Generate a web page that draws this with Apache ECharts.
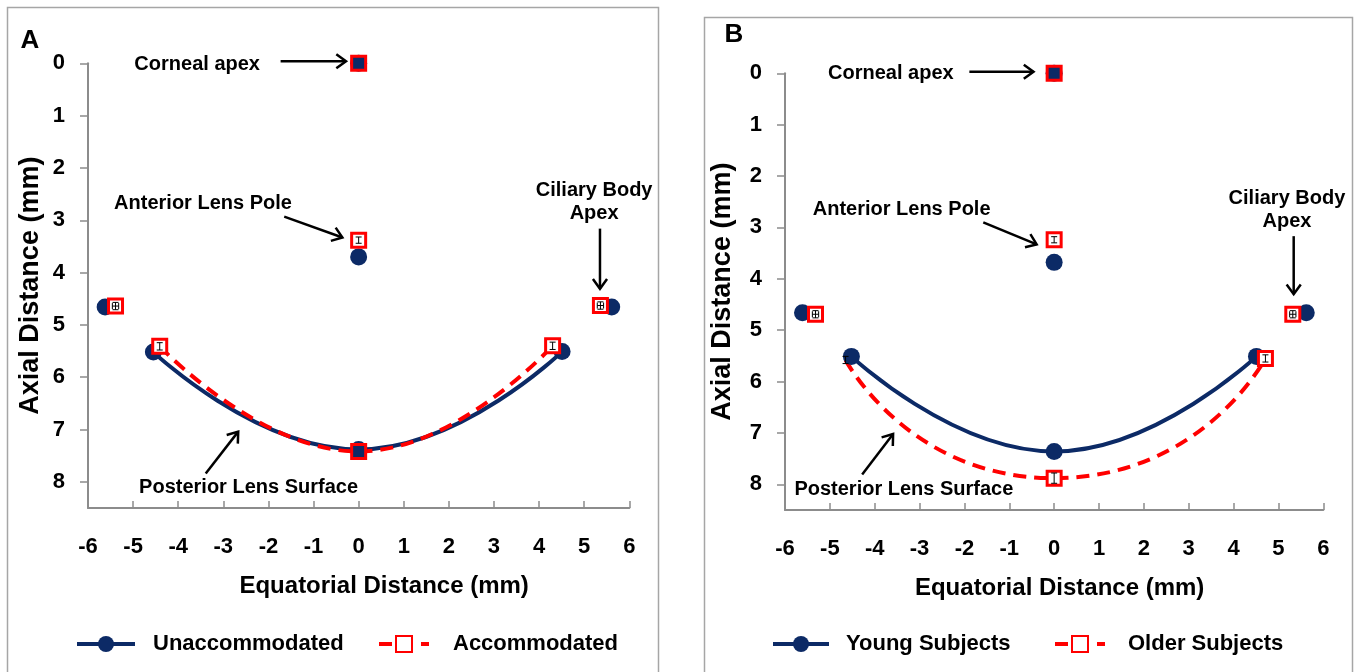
<!DOCTYPE html>
<html>
<head>
<meta charset="utf-8">
<title>Lens landmarks</title>
<script src="https://cdn.jsdelivr.net/npm/echarts@6.0.0/dist/echarts.min.js"></script>
<style>
  html, body { margin: 0; padding: 0; background: #fff; }
  #chart { width: 1354px; height: 672px; }
</style>
</head>
<body>
<div id="chart"></div>
<script>
// ---- data (mm) ----
// landmark order: corneal apex, anterior lens pole, ciliary body apex (left), ciliary body apex (right)
const xTicks = [-6, -5, -4, -3, -2, -1, 0, 1, 2, 3, 4, 5, 6];
const yTicks = [0, 1, 2, 3, 4, 5, 6, 7, 8];

// panel A
const unaccLandmarks = [[0, 0], [0, 3.70], [-5.62, 4.66], [5.61, 4.66]];
const unaccPosterior = [[-4.55, 5.52], [0, 7.38], [4.51, 5.51]];
const accLandmarks = [[0, 0], [0, 3.38], [-5.39, 4.64], [5.36, 4.63]];
const accPosterior = [[-4.41, 5.41], [0, 7.42], [4.30, 5.40]];
const accLandmarkErrX = [0, 0, 0.07, 0.07];
const accLandmarkErrY = [0, 0.06, 0.07, 0.07];
const accPosteriorErrY = [0.07, 0, 0.07];

// panel B
const youngLandmarks = [[0, 0], [0, 3.68], [-5.61, 4.66], [5.62, 4.66]];
const youngPosterior = [[-4.52, 5.51], [0, 7.36], [4.51, 5.51]];
const olderLandmarks = [[0, 0], [0, 3.24], [-5.32, 4.69], [5.32, 4.69]];
const olderPosterior = [[-4.65, 5.58], [0, 7.88], [4.71, 5.55]];
const olderLandmarkErrX = [0, 0, 0.07, 0.07];
const olderLandmarkErrY = [0, 0.06, 0.07, 0.07];
const olderPosteriorErrY = [0.07, 0.1, 0.07];

// ---- look ----
const FONT = '"Liberation Sans", Arial, sans-serif';
const NAVY = '#0c2a66';
const RED = '#ff0000';
const AXIS = '#8c8c8c';

// annotation placement, in data coordinates of each panel
const notesA = [
  { text: 'Corneal apex', at: [-3.58, 0.03] },
  { text: 'Anterior Lens Pole', at: [-3.45, 2.68] },
  { text: 'Ciliary Body\nApex', at: [5.22, 2.66] },
  { text: 'Posterior Lens Surface', at: [-2.44, 8.10] }
];
const arrowsA = [[-1.73, -0.04, -0.28, -0.04], [-1.65, 2.93, -0.36, 3.33], [5.35, 3.16, 5.35, 4.31], [-3.39, 7.84, -2.67, 7.04]];
const notesB = [
  { text: 'Corneal apex', at: [-3.64, 0.01] },
  { text: 'Anterior Lens Pole', at: [-3.40, 2.65] },
  { text: 'Ciliary Body\nApex', at: [5.19, 2.67] },
  { text: 'Posterior Lens Surface', at: [-3.35, 8.11] }
];
const arrowsB = [[-1.89, -0.03, -0.46, -0.03], [-1.58, 2.90, -0.39, 3.33], [5.34, 3.17, 5.34, 4.30], [-4.28, 7.81, -3.59, 7.02]];

// square markers sit on top of a navy dot where both groups coincide
function fillFor(p, navyPts) {
  const hit = navyPts.some(q => Math.abs(q[0] - p[0]) < 0.1 && Math.abs(q[1] - p[1]) < 0.1);
  return hit ? NAVY : '#fff';
}

function squarePoints(pts, navyPts, hidden) {
  return pts.map((p, i) => ({
    value: p,
    symbol: hidden && hidden.indexOf(i) >= 0 ? 'none' : 'rect',
    itemStyle: { color: fillFor(p, navyPts) }
  }));
}

function errorData(landmarks, errX, errY, posterior, postErrY) {
  const out = [];
  landmarks.forEach((p, i) => out.push([p[0], p[1], errX[i], errY[i]]));
  posterior.forEach((p, i) => out.push([p[0], p[1], 0, postErrY[i]]));
  return out.filter(d => d[2] > 0 || d[3] > 0);
}

function renderError(params, api) {
  const x = api.value(0), y = api.value(1), ex = api.value(2), ey = api.value(3);
  const kids = [];
  const st = { stroke: '#000', lineWidth: 1 };
  if (ey > 0) {
    const a = api.coord([x, y - ey]), b = api.coord([x, y + ey]);
    kids.push({ type: 'line', shape: { x1: a[0], y1: a[1], x2: b[0], y2: b[1] }, style: st });
    kids.push({ type: 'line', shape: { x1: a[0] - 3, y1: a[1], x2: a[0] + 3, y2: a[1] }, style: st });
    kids.push({ type: 'line', shape: { x1: b[0] - 3, y1: b[1], x2: b[0] + 3, y2: b[1] }, style: st });
  }
  if (ex > 0) {
    const a = api.coord([x - ex, y]), b = api.coord([x + ex, y]);
    kids.push({ type: 'line', shape: { x1: a[0], y1: a[1], x2: b[0], y2: b[1] }, style: st });
    kids.push({ type: 'line', shape: { x1: a[0], y1: a[1] - 3, x2: a[0], y2: a[1] + 3 }, style: st });
    kids.push({ type: 'line', shape: { x1: b[0], y1: b[1] - 3, x2: b[0], y2: b[1] + 3 }, style: st });
  }
  return { type: 'group', children: kids };
}

function renderArrow(params, api) {
  const a = api.coord([api.value(0), api.value(1)]);
  const b = api.coord([api.value(2), api.value(3)]);
  const ang = Math.atan2(b[1] - a[1], b[0] - a[0]);
  const L = 12, w = Math.PI / 5;
  const h1 = [b[0] - L * Math.cos(ang - w), b[1] - L * Math.sin(ang - w)];
  const h2 = [b[0] - L * Math.cos(ang + w), b[1] - L * Math.sin(ang + w)];
  const st = { stroke: '#000', lineWidth: 2.5, fill: null };
  return {
    type: 'group', children: [
      { type: 'line', shape: { x1: a[0], y1: a[1], x2: b[0], y2: b[1] }, style: st },
      { type: 'polyline', shape: { points: [h1, b, h2] }, style: st }
    ]
  };
}

function noteSeries(notes, idx) {
  return {
    type: 'custom', xAxisIndex: idx, yAxisIndex: idx, silent: true, z: 5,
    data: notes.map(n => n.at),
    renderItem(params, api) {
      const p = api.coord([api.value(0), api.value(1)]);
      return {
        type: 'text', x: p[0], y: p[1],
        style: {
          text: notes[params.dataIndex].text, align: 'center', verticalAlign: 'middle',
          font: 'bold 20px ' + FONT, fill: '#000', lineHeight: 23
        }
      };
    }
  };
}

function panelSeries(idx, navyName, redName, navyLand, navyPost, redLand, redPost, errs, arrows, notes, redSmooth, hidden) {
  return [
    {
      name: navyName, type: 'line', xAxisIndex: idx, yAxisIndex: idx, data: navyPost, smooth: 0.5,
      symbol: 'circle', symbolSize: 17, itemStyle: { color: NAVY, opacity: 1 },
      lineStyle: { color: NAVY, width: 4 }
    },
    {
      name: navyName, type: 'scatter', xAxisIndex: idx, yAxisIndex: idx, data: navyLand,
      symbol: 'circle', symbolSize: 17, itemStyle: { color: NAVY, opacity: 1 }
    },
    {
      name: redName, type: 'line', xAxisIndex: idx, yAxisIndex: idx,
      data: squarePoints(redPost, navyLand.concat(navyPost), hidden), smooth: redSmooth,
      symbol: 'rect', symbolSize: 14,
      itemStyle: { color: '#fff', borderColor: RED, borderWidth: 3, opacity: 1 },
      lineStyle: { color: RED, width: 4, type: [13, 8] }
    },
    {
      name: redName, type: 'scatter', xAxisIndex: idx, yAxisIndex: idx,
      data: squarePoints(redLand, navyLand.concat(navyPost)),
      symbol: 'rect', symbolSize: 14,
      itemStyle: { color: '#fff', borderColor: RED, borderWidth: 3, opacity: 1 }
    },
    {
      type: 'custom', xAxisIndex: idx, yAxisIndex: idx, silent: true, z: 4,
      data: errs, renderItem: renderError
    },
    {
      type: 'custom', xAxisIndex: idx, yAxisIndex: idx, silent: true, z: 5,
      data: arrows, renderItem: renderArrow
    },
    noteSeries(notes, idx)
  ];
}

function xAxisFor(idx, shift) {
  return {
    type: 'value', gridIndex: idx, min: -6, max: 6, interval: 1,
    name: 'Equatorial Distance (mm)', nameLocation: 'middle', nameGap: 66,
    nameTextStyle: { fontSize: 24, fontWeight: 'bold', color: '#000', fontFamily: FONT, padding: [0, 0, 0, shift] },
    axisLine: { onZero: false, lineStyle: { color: AXIS, width: 2 } },
    axisTick: { inside: true, length: 7, lineStyle: { color: AXIS, width: 1.5 }, customValues: xTicks },
    axisLabel: { margin: 28, fontSize: 22, fontWeight: 'bold', color: '#000', fontFamily: FONT, customValues: xTicks },
    splitLine: { show: false }
  };
}

function yAxisFor(idx, gap) {
  return {
    type: 'value', gridIndex: idx, min: 0, max: 8.5, inverse: true,
    name: 'Axial Distance (mm)', nameLocation: 'middle', nameGap: gap, nameRotate: 90,
    nameTextStyle: { fontSize: 27, fontWeight: 'bold', color: '#000', fontFamily: FONT },
    axisLine: { onZero: false, lineStyle: { color: AXIS, width: 2 } },
    axisTick: { length: 8, lineStyle: { color: AXIS, width: 1.5 }, customValues: yTicks },
    axisLabel: { margin: 23, fontSize: 22, fontWeight: 'bold', color: '#000', fontFamily: FONT, customValues: yTicks },
    splitLine: { show: false }
  };
}

function legendFor(name, left, width, textPad, borderWidth) {
  return {
    data: [name], left, top: 633, itemWidth: width, itemHeight: 20, padding: 0, selectedMode: false,
    textStyle: { fontSize: 22, fontWeight: 'bold', color: '#000', fontFamily: FONT, padding: [0, 0, 0, textPad] },
    lineStyle: { width: 4 },
    itemStyle: { borderWidth }
  };
}

const chart = echarts.init(document.getElementById('chart'));

const option = {
  backgroundColor: '#fff',
  animation: false,
  textStyle: { fontFamily: FONT },
  grid: [
    { left: 88, top: 63.3, width: 541.3, height: 444.7 },
    { left: 785, top: 73.3, width: 538.3, height: 436.7 }
  ],
  xAxis: [xAxisFor(0, 51), xAxisFor(1, 11)],
  yAxis: [yAxisFor(0, 44), yAxisFor(1, 49)],
  legend: [
    legendFor('Unaccommodated', 75, 58, 13, 0),
    legendFor('Accommodated', 377, 50, 19, 2),
    legendFor('Young Subjects', 771, 56, 12, 0),
    legendFor('Older Subjects', 1053, 50, 18, 2)
  ],
  graphic: [
    { type: 'rect', shape: { x: 7.5, y: 7.5, width: 651, height: 700 }, style: { fill: null, stroke: '#a6a6a6', lineWidth: 1.5 }, z: -1 },
    { type: 'rect', shape: { x: 704.5, y: 17.5, width: 648, height: 700 }, style: { fill: null, stroke: '#a6a6a6', lineWidth: 1.5 }, z: -1 },
    { type: 'text', x: 30, y: 41, style: { text: 'A', font: 'bold 26px ' + FONT, fill: '#000', align: 'center', verticalAlign: 'middle' } },
    { type: 'text', x: 734, y: 35, style: { text: 'B', font: 'bold 26px ' + FONT, fill: '#000', align: 'center', verticalAlign: 'middle' } }
  ],
  series: [].concat(
    panelSeries(0, 'Unaccommodated', 'Accommodated', unaccLandmarks, unaccPosterior, accLandmarks, accPosterior,
      errorData(accLandmarks, accLandmarkErrX, accLandmarkErrY, accPosterior, accPosteriorErrY), arrowsA, notesA, 0.5),
    panelSeries(1, 'Young Subjects', 'Older Subjects', youngLandmarks, youngPosterior, olderLandmarks, olderPosterior,
      errorData(olderLandmarks, olderLandmarkErrX, olderLandmarkErrY, olderPosterior, olderPosteriorErrY), arrowsB, notesB, 0.7, [0])
  )
};

chart.setOption(option);
</script>
</body>
</html>
